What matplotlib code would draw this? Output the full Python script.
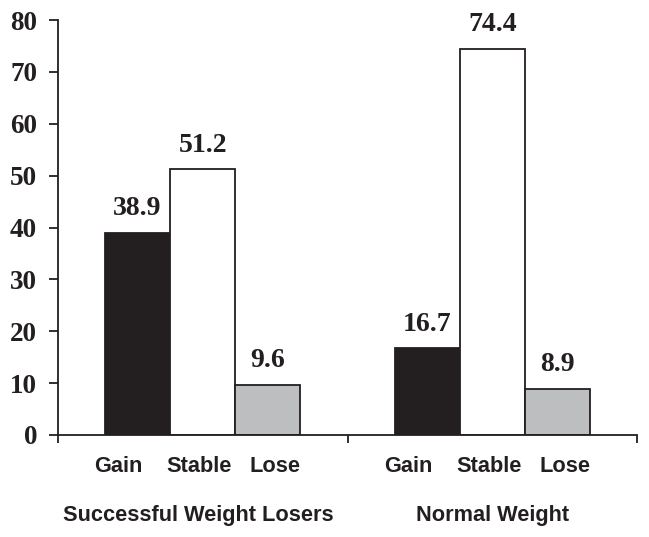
import matplotlib.pyplot as plt
import numpy as np

# data
groups = ["Successful Weight Losers", "Normal Weight"]
categories = ["Gain", "Stable", "Lose"]
losers = [38.9, 51.2, 9.6]
normal = [16.7, 74.4, 8.9]
yticks = [0, 10, 20, 30, 40, 50, 60, 70, 80]

ink = "#231f20"
colors = [ink, "white", "#bcbec0"]
bar_w = 0.225
label_shift = [-0.065, -0.012, 0.025]

fig = plt.figure(figsize=(6.49, 5.37), dpi=100)
ax = fig.add_axes([58 / 649, 102 / 537, 579 / 649, 415 / 537])

for g, vals in enumerate([losers, normal]):
    center = g + 0.5
    for i, v in enumerate(vals):
        x = center + (i - 1) * bar_w
        ax.bar(x, v, width=bar_w, color=colors[i], edgecolor=ink, linewidth=1.3)
        ax.annotate(f"{v:.1f}", xy=(x, v), xytext=(0, 17.5), textcoords="offset points",
                    ha="center", va="center", fontsize=20, fontweight="bold",
                    family="Liberation Serif", color=ink)
        ax.annotate(categories[i], xy=(x + label_shift[i], 0), xytext=(0, -23),
                    textcoords="offset points", ha="center", va="center",
                    fontsize=15.7, fontweight="bold", family="Liberation Sans",
                    color=ink, annotation_clip=False)
    ax.annotate(groups[g], xy=(center - 0.015 * (1 - g), 0), xytext=(0, -58),
                textcoords="offset points", ha="center", va="center",
                fontsize=15.7, fontweight="bold", family="Liberation Sans",
                color=ink, annotation_clip=False)

ax.set_xlim(0, 2)
ax.set_ylim(0, 80)
ax.set_yticks(yticks)
ax.set_yticklabels([str(t) for t in yticks], fontsize=19.5, fontweight="bold",
                   family="Liberation Serif", color=ink)
ax.set_xticks([0, 1, 2])
ax.set_xticklabels([])
ax.tick_params(axis="y", direction="out", length=6.5, width=1.3, pad=8.5, color=ink)
ax.tick_params(axis="x", direction="out", length=6, width=1.3, color=ink)

for s in ["top", "right"]:
    ax.spines[s].set_visible(False)
for s in ["left", "bottom"]:
    ax.spines[s].set_linewidth(1.3)
    ax.spines[s].set_color(ink)

fig.savefig("out.png", dpi=100)
